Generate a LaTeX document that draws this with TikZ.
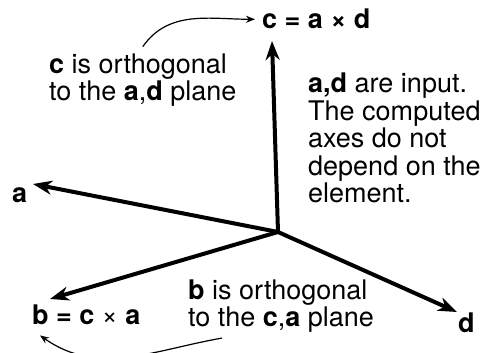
\documentclass[tikz,border=0pt]{standalone}
\usepackage{fontspec}
\setmainfont{TeX Gyre Heros}
\usetikzlibrary{arrows.meta}

\begin{document}
\begin{tikzpicture}[
  x=1pt, y=1pt,
  axis/.style={line width=4pt, -{Stealth[length=19pt, width=14pt, inset=6pt]}},
  callout/.style={line width=1.2pt, -{Stealth[length=9pt, width=7pt]}},
  lbl/.style={inner sep=0pt, anchor=base west, font=\fontsize{27}{27.5}\selectfont\bfseries},
  note/.style={inner sep=0pt, anchor=base west, align=left, font=\fontsize{27}{27.5}\selectfont},
]
  \useasboundingbox (0,0) rectangle (483,353);

  % axes from the element origin
  \coordinate (o) at (278,121);
  \coordinate (ctip) at (272,312);
  \coordinate (atip) at (33,169);
  \coordinate (btip) at (50,54);
  \coordinate (dtip) at (457,41);

  \draw[axis] (o) -- (ctip);
  \draw[axis] (o) -- (atip);
  \draw[axis] (o) -- (btip);
  \draw[axis] (o) -- (dtip);

  \node[lbl] (clabel) at (262,324) {c = a × d};
  \node[lbl] (alabel) at (12,150) {a};
  \node[lbl] (blabel) at (32,28) {b = c \textmd{×} a};
  \node[lbl] (dlabel) at (458,20) {d};

  % multi-line notes sit on their last baseline
  \node[note] (cnote) at (49,252) {\textbf{c} is orthogonal\\to the \textbf{a},\textbf{d} plane};
  \node[note] (inote) at (308,150) {\textbf{a,d} are input.\\The computed\\axes do not\\depend on the\\element.};
  \node[note] (bnote) at (188,26) {\textbf{b} is orthogonal\\to the \textbf{c},\textbf{a} plane};

  \draw[callout] ([yshift=7pt]cnote.north) to[out=55, in=180] ([xshift=-7pt]clabel.west);
  \draw[callout] ([xshift=34pt, yshift=-5pt]bnote.south west) to[out=-170, in=-35] ([xshift=8pt, yshift=-10pt]blabel.south west);
\end{tikzpicture}
\end{document}
